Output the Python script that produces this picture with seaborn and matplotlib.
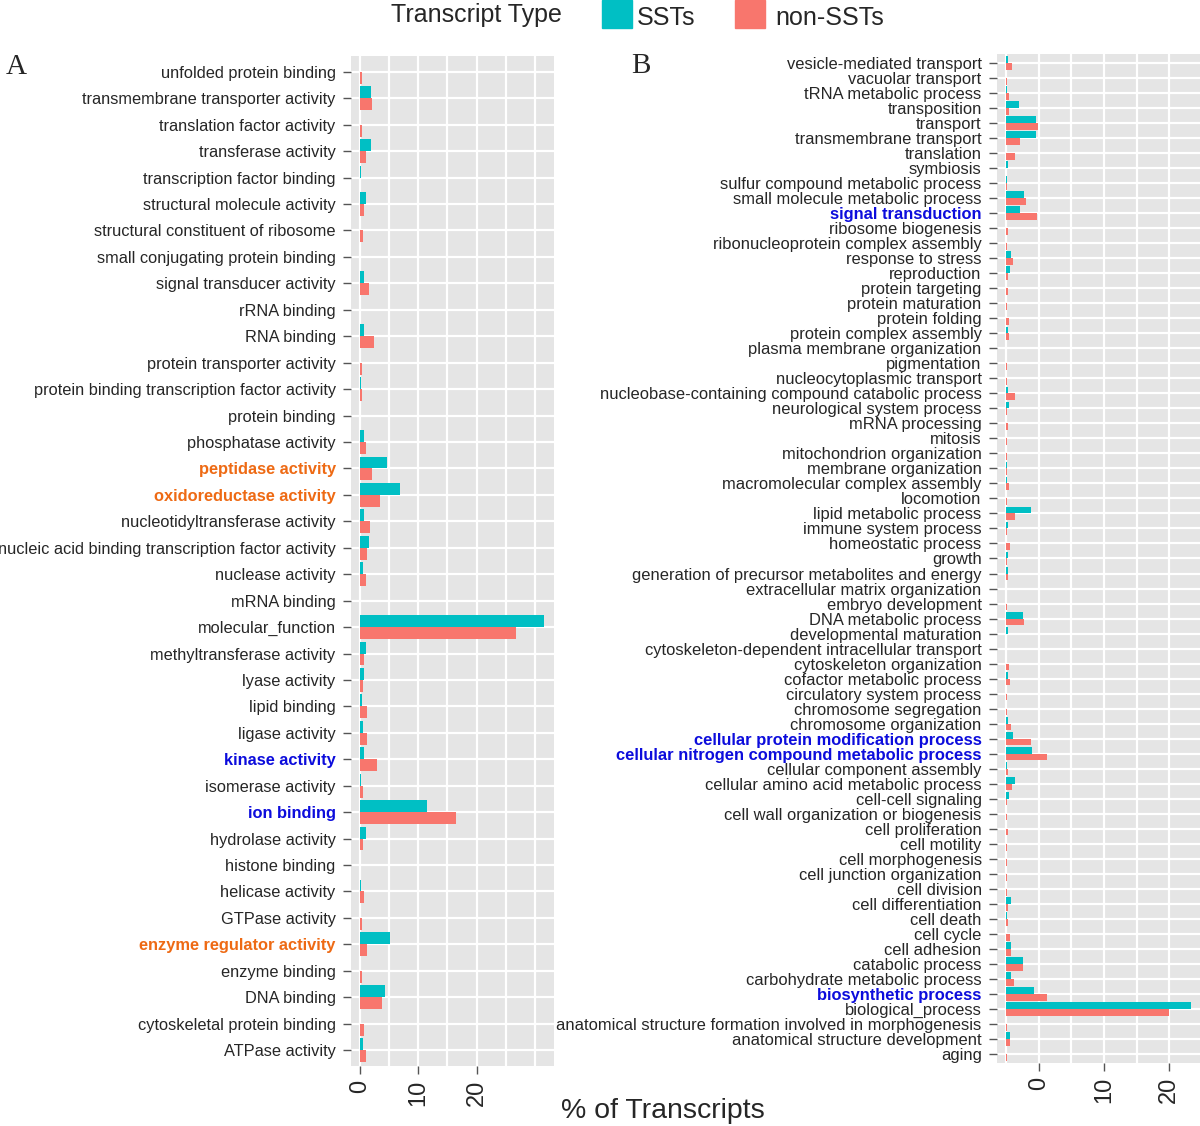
import numpy as np
import pandas as pd
import matplotlib.pyplot as plt
import seaborn as sns
from matplotlib.patches import Rectangle

sns.set_theme(style="darkgrid")
plt.rcParams['font.family'] = ['Liberation Sans', 'DejaVu Sans']

SST_COLOR = "#00BFC4"
NON_COLOR = "#F8766D"

# Panel A: molecular function terms (top to bottom)
mf_terms = [
    "unfolded protein binding", "transmembrane transporter activity", "translation factor activity",
    "transferase activity", "transcription factor binding", "structural molecule activity",
    "structural constituent of ribosome", "small conjugating protein binding", "signal transducer activity",
    "rRNA binding", "RNA binding", "protein transporter activity",
    "protein binding transcription factor activity", "protein binding", "phosphatase activity",
    "peptidase activity", "oxidoreductase activity", "nucleotidyltransferase activity",
    "nucleic acid binding transcription factor activity", "nuclease activity", "mRNA binding",
    "molecular_function", "methyltransferase activity", "lyase activity",
    "lipid binding", "ligase activity", "kinase activity",
    "isomerase activity", "ion binding", "hydrolase activity",
    "histone binding", "helicase activity", "GTPase activity",
    "enzyme regulator activity", "enzyme binding", "DNA binding",
    "cytoskeletal protein binding", "ATPase activity",
]
mf_sst = [0.0, 1.9, 0.0, 1.9, 0.17, 1.0, 0.0, 0.0, 0.8, 0.0, 0.8, 0.0,
          0.15, 0.0, 0.8, 4.7, 6.8, 0.8, 1.5, 0.5, 0.0, 31.6, 1.1, 0.8,
          0.35, 0.5, 0.8, 0.15, 11.5, 1.0, 0.0, 0.15, 0.0, 5.1, 0.0, 4.3,
          0.0, 0.5]
mf_non = [0.35, 2.1, 0.35, 1.0, 0.05, 0.7, 0.6, 0.1, 1.65, 0.1, 2.4, 0.3,
          0.3, 0.1, 1.0, 2.05, 3.4, 1.7, 1.2, 1.0, 0.05, 26.8, 0.75, 0.5,
          1.2, 1.3, 3.0, 0.5, 16.5, 0.5, 0.05, 0.75, 0.45, 1.3, 0.35, 3.8,
          0.7, 1.1]

# Panel B: biological process terms (top to bottom)
bp_terms = [
    "vesicle-mediated transport", "vacuolar transport", "tRNA metabolic process", "transposition",
    "transport", "transmembrane transport", "translation", "symbiosis",
    "sulfur compound metabolic process", "small molecule metabolic process", "signal transduction",
    "ribosome biogenesis", "ribonucleoprotein complex assembly", "response to stress", "reproduction",
    "protein targeting", "protein maturation", "protein folding", "protein complex assembly",
    "plasma membrane organization", "pigmentation", "nucleocytoplasmic transport",
    "nucleobase-containing compound catabolic process", "neurological system process",
    "mRNA processing", "mitosis", "mitochondrion organization", "membrane organization",
    "macromolecular complex assembly", "locomotion", "lipid metabolic process",
    "immune system process", "homeostatic process", "growth",
    "generation of precursor metabolites and energy", "extracellular matrix organization",
    "embryo development", "DNA metabolic process", "developmental maturation",
    "cytoskeleton-dependent intracellular transport", "cytoskeleton organization",
    "cofactor metabolic process", "circulatory system process", "chromosome segregation",
    "chromosome organization", "cellular protein modification process",
    "cellular nitrogen compound metabolic process", "cellular component assembly",
    "cellular amino acid metabolic process", "cell-cell signaling",
    "cell wall organization or biogenesis", "cell proliferation", "cell motility",
    "cell morphogenesis", "cell junction organization", "cell division", "cell differentiation",
    "cell death", "cell cycle", "cell adhesion", "catabolic process",
    "carbohydrate metabolic process", "biosynthetic process", "biological_process",
    "anatomical structure formation involved in morphogenesis",
    "anatomical structure development", "aging",
]
bp_sst = [0.25, 0.0, 0.2, 1.95, 4.55, 4.55, 0.0, 0.25, 0.2, 2.8, 2.2, 0.0,
          0.0, 0.8, 0.65, 0.0, 0.0, 0.0, 0.25, 0.0, 0.0, 0.0, 0.35, 0.5,
          0.0, 0.0, 0.0, 0.2, 0.2, 0.0, 3.8, 0.25, 0.0, 0.25, 0.25, 0.0,
          0.0, 2.55, 0.25, 0.0, 0.0, 0.3, 0.0, 0.0, 0.25, 1.1, 3.9, 0.2,
          1.4, 0.5, 0.0, 0.0, 0.0, 0.0, 0.0, 0.0, 0.8, 0.2, 0.0, 0.7,
          2.65, 0.7, 4.2, 28.3, 0.0, 0.65, 0.0]
bp_non = [0.9, 0.1, 0.5, 0.5, 4.85, 2.15, 1.3, 0.0, 0.2, 3.0, 4.75, 0.25,
          0.1, 1.1, 0.25, 0.25, 0.1, 0.5, 0.5, 0.0, 0.1, 0.15, 1.3, 0.1,
          0.3, 0.1, 0.1, 0.15, 0.45, 0.1, 1.3, 0.2, 0.55, 0.15, 0.25, 0.0,
          0.1, 2.7, 0.0, 0.0, 0.4, 0.55, 0.1, 0.1, 0.7, 3.8, 6.3, 0.35,
          0.85, 0.1, 0.1, 0.25, 0.1, 0.15, 0.1, 0.15, 0.3, 0.25, 0.6, 0.7,
          2.65, 1.2, 6.2, 24.9, 0.1, 0.55, 0.1]

mf_orange = ["peptidase activity", "oxidoreductase activity", "enzyme regulator activity"]
mf_blue = ["kinase activity", "ion binding"]
bp_blue = ["signal transduction", "cellular protein modification process",
           "cellular nitrogen compound metabolic process", "biosynthetic process"]

types = ["SSTs", "non-SSTs"]


def long_df(terms, sst, non):
    d = pd.DataFrame({"term": terms, "SSTs": sst, "non-SSTs": non})
    return d.melt(id_vars="term", var_name="Transcript Type", value_name="pct")


def style_axis(ax, terms, xlim, ticks, ticklabels, fontsize, orange, blue):
    ax.set_facecolor("#E5E5E5")
    ax.set_xlim(*xlim)
    ax.set_ylim(len(terms) - 0.4, -0.6)
    ax.set_xticks(ticks)
    ax.set_xticklabels(ticklabels, rotation=90, fontsize=17)
    ax.xaxis.set_minor_locator(plt.MultipleLocator(5))
    ax.grid(True, which="major", axis="both", color="white", linewidth=1.6)
    ax.grid(True, which="minor", axis="x", color="white", linewidth=1.6)
    ax.set_axisbelow(True)
    for s in ax.spines.values():
        s.set_visible(False)
    ax.tick_params(axis="both", which="major", length=6, width=1, color="#555555",
                   pad=4, bottom=True, left=True)
    ax.tick_params(axis="x", which="minor", length=0)
    ax.tick_params(axis="y", labelsize=fontsize, pad=5)
    ax.set_xlabel("")
    ax.set_ylabel("")
    for lab in ax.get_yticklabels():
        t = lab.get_text()
        if t in orange:
            lab.set_color("#EE6A14")
            lab.set_fontweight("bold")
        elif t in blue:
            lab.set_color("#0C0CDC")
            lab.set_fontweight("bold")
    if ax.get_legend() is not None:
        ax.get_legend().remove()


fig = plt.figure(figsize=(12, 11.26), dpi=100)
fig.patch.set_facecolor("white")

ax_a = fig.add_axes([0.2925, 0.0533, 0.169, 0.897])
sns.barplot(data=long_df(mf_terms, mf_sst, mf_non), y="term", x="pct",
            hue="Transcript Type", hue_order=types,
            palette=[SST_COLOR, NON_COLOR], orient="h", width=0.9,
            saturation=1, errorbar=None, linewidth=0, ax=ax_a)
style_axis(ax_a, mf_terms, (-1.5, 33.2), [0, 10, 20], ["0", "10", "20"], 11.8,
           mf_orange, mf_blue)

ax_b = fig.add_axes([0.8308, 0.056, 0.1692, 0.896])
sns.barplot(data=long_df(bp_terms, bp_sst, bp_non), y="term", x="pct",
            hue="Transcript Type", hue_order=types,
            palette=[SST_COLOR, NON_COLOR], orient="h", width=0.9,
            saturation=1, errorbar=None, linewidth=0, ax=ax_b)
style_axis(ax_b, bp_terms, (-1.4, 29.7), [5, 15, 25], ["0", "10", "20"], 11.9,
           [], bp_blue)

fig.text(0.005, 0.934, "A", family="Liberation Serif", fontsize=21)
fig.text(0.526, 0.935, "B", family="Liberation Serif", fontsize=21)
fig.text(0.5525, 0.002, "% of Transcripts", fontsize=20.5, ha="center", va="bottom")

# legend at the top
fig.text(0.326, 0.987, "Transcript Type", fontsize=18, va="center")
fig.patches.append(Rectangle((0.502, 0.975), 0.025, 0.025, transform=fig.transFigure,
                             color=SST_COLOR))
fig.text(0.531, 0.984, "SSTs", fontsize=18, va="center")
fig.patches.append(Rectangle((0.6125, 0.975), 0.025, 0.025, transform=fig.transFigure,
                             color=NON_COLOR))
fig.text(0.646, 0.984, "non-SSTs", fontsize=18, va="center")

fig.savefig("out.png", dpi=100)
